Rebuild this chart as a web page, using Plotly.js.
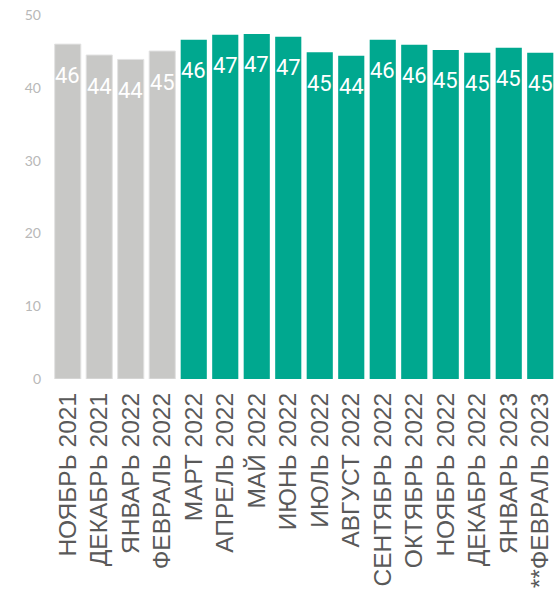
<!DOCTYPE html>
<html>
<head>
<meta charset="utf-8">
<script src="https://cdn.plot.ly/plotly-3.0.1.min.js"></script>
<style>html,body{margin:0;padding:0;background:#fff;}#chart{width:557px;height:608px;}</style>
</head>
<body>
<div id="chart"></div>
<script>
const categories = ["НОЯБРЬ 2021","ДЕКАБРЬ 2021","ЯНВАРЬ 2022","ФЕВРАЛЬ 2022","МАРТ 2022","АПРЕЛЬ 2022","МАЙ 2022","ИЮНЬ 2022","ИЮЛЬ 2022","АВГУСТ 2022","СЕНТЯБРЬ 2022","ОКТЯБРЬ 2022","НОЯБРЬ 2022","ДЕКАБРЬ 2022","ЯНВАРЬ 2023","**ФЕВРАЛЬ 2023"];
const values = [46.0,44.5,43.9,45.05,46.6,47.3,47.4,47.0,44.9,44.4,46.6,45.9,45.2,44.8,45.5,44.8];
const labels = ["46","44","44","45","46","47","47","47","45","44","46","46","45","45","45","45"];
const isBefore = [true,true,true,true,false,false,false,false,false,false,false,false,false,false,false,false];
const yTicks = [0,10,20,30,40,50];

const GRAY = "#c8c8c6", TEAL = "#00a88f";

const trace = {
  type: "bar",
  x: categories,
  y: values,
  marker: {
    color: isBefore.map(b => b ? GRAY : TEAL),
    line: {color: isBefore.map(b => b ? "#e2e2e2" : TEAL), width: isBefore.map(b => b ? 1 : 0)}
  },
  hoverinfo: "none"
};

const annotations = categories.map((c, i) => ({
  x: c, y: values[i], xref: "x", yref: "y",
  text: labels[i], showarrow: false,
  yanchor: "middle", yshift: -31,
  font: {family: "Roboto, 'Noto Sans', sans-serif", size: 22, color: "#ffffff"}
}));

const layout = {
  width: 557, height: 608,
  margin: {l: 52, r: 1, t: 15, b: 229},
  paper_bgcolor: "#ffffff", plot_bgcolor: "#ffffff",
  showlegend: false,
  bargap: 0.17,
  xaxis: {
    type: "category",
    tickangle: -90,
    tickfont: {family: "'Liberation Sans', Arial, sans-serif", size: 24.5, color: "#595959"},
    showgrid: false, showline: false, zeroline: false, ticks: "",
    ticklabelstandoff: 8,
    automargin: false
  },
  yaxis: {
    range: [0, 50],
    tickvals: yTicks,
    ticktext: yTicks.map(String),
    tickfont: {family: "Lato, 'Noto Sans', sans-serif", size: 14, color: "#b8b8b8"},
    showgrid: false, showline: false, zeroline: false, ticks: "",
    ticklabelstandoff: 10,
    automargin: false
  },
  annotations: annotations
};

Plotly.newPlot("chart", [trace], layout, {displayModeBar: false, staticPlot: true});
</script>
</body>
</html>
